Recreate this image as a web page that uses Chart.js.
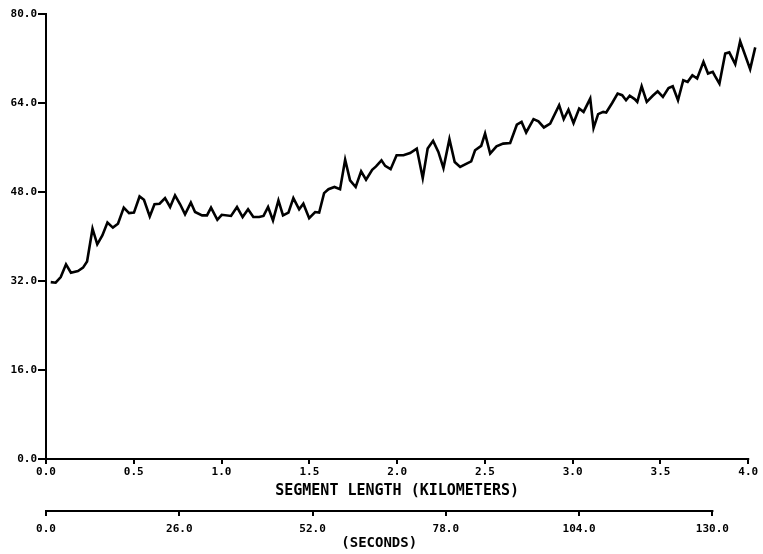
<!DOCTYPE html>
<html>
<head>
<meta charset="utf-8">
<title>Segment length profile</title>
<script src="https://cdn.jsdelivr.net/npm/chart.js@4.4.1/dist/chart.umd.min.js"></script>
<style>
  html, body { margin: 0; padding: 0; background: #fff; }
  canvas { display: block; }
</style>
</head>
<body>
<canvas id="chart" width="763" height="554"></canvas>
<script>
// Distance along the segment (km) for each sample
const distanceKm = [
  0.027, 0.055, 0.084, 0.114, 0.142, 0.182, 0.211, 0.234, 0.265, 0.292,
  0.321, 0.350, 0.381, 0.410, 0.443, 0.473, 0.501, 0.533, 0.558, 0.591,
  0.618, 0.647, 0.678, 0.707, 0.735, 0.764, 0.792, 0.825, 0.849, 0.889,
  0.917, 0.940, 0.976, 1.001, 1.054, 1.088, 1.120, 1.151, 1.181, 1.214,
  1.239, 1.265, 1.293, 1.324, 1.350, 1.381, 1.409, 1.442, 1.466, 1.499,
  1.533, 1.556, 1.584, 1.609, 1.643, 1.675, 1.704, 1.732, 1.764, 1.795,
  1.823, 1.858, 1.880, 1.911, 1.932, 1.963, 1.997, 2.036, 2.074, 2.112,
  2.146, 2.174, 2.205, 2.235, 2.264, 2.298, 2.328, 2.359, 2.396, 2.422,
  2.444, 2.479, 2.501, 2.530, 2.566, 2.604, 2.644, 2.682, 2.709, 2.735,
  2.777, 2.805, 2.836, 2.872, 2.923, 2.949, 2.976, 3.005, 3.037, 3.062,
  3.100, 3.119, 3.145, 3.174, 3.191, 3.225, 3.256, 3.282, 3.304, 3.325,
  3.353, 3.368, 3.393, 3.422, 3.456, 3.484, 3.514, 3.546, 3.570, 3.600,
  3.630, 3.655, 3.682, 3.709, 3.745, 3.771, 3.798, 3.812, 3.836, 3.869,
  3.892, 3.926, 3.954, 4.011, 4.040
];

// Measured value at each sample
const measured = [
  31.8, 31.7, 32.7, 35.0, 33.5, 33.8, 34.4, 35.5, 41.4, 38.6,
  40.2, 42.5, 41.6, 42.3, 45.2, 44.2, 44.3, 47.2, 46.6, 43.6,
  45.8, 45.9, 46.9, 45.3, 47.4, 45.8, 44.0, 46.1, 44.4, 43.8,
  43.8, 45.2, 43.0, 43.9, 43.7, 45.3, 43.5, 44.9, 43.5, 43.5,
  43.7, 45.3, 42.9, 46.5, 43.8, 44.3, 46.9, 44.9, 45.9, 43.3,
  44.4, 44.3, 47.8, 48.5, 48.9, 48.5, 53.8, 50.1, 48.9, 51.7,
  50.2, 52.0, 52.6, 53.7, 52.7, 52.1, 54.6, 54.6, 55.0, 55.8,
  50.5, 55.8, 57.2, 55.2, 52.3, 57.5, 53.4, 52.5, 53.1, 53.5,
  55.5, 56.3, 58.5, 54.9, 56.2, 56.7, 56.8, 60.1, 60.6, 58.7,
  61.1, 60.7, 59.6, 60.3, 63.6, 61.1, 62.8, 60.4, 63.0, 62.4,
  64.8, 59.5, 62.0, 62.4, 62.3, 64.0, 65.7, 65.4, 64.5, 65.3,
  64.7, 64.2, 67.0, 64.2, 65.3, 66.1, 65.1, 66.7, 67.0, 64.5,
  68.1, 67.8, 69.0, 68.4, 71.4, 69.3, 69.6, 68.8, 67.5, 72.9,
  73.1, 71.0, 75.1, 70.1, 74.0
];

// Tick values for the three axes
const kmTicks = [0, 0.5, 1.0, 1.5, 2.0, 2.5, 3.0, 3.5, 4.0];
const valueTicks = [0, 16, 32, 48, 64, 80];
const secondsTicks = [0, 26, 52, 78, 104, 130];

const FONT = "'DejaVu Sans Mono', monospace";
const tickFont = { family: FONT, size: 11, weight: 'bold' };

const points = distanceKm.map((x, i) => ({ x, y: measured[i] }));

// Draws both horizontal axis lines only across their labelled spans,
// with each caption centred under its own span
const axisDecor = {
  id: 'axisDecor',
  afterDraw(chart) {
    const ctx = chart.ctx;
    const km = chart.scales.x;
    const s = chart.scales.seconds;
    const k0 = km.getPixelForValue(kmTicks[0]);
    const k1 = km.getPixelForValue(kmTicks[kmTicks.length - 1]);
    const x0 = s.getPixelForValue(secondsTicks[0]);
    const x1 = s.getPixelForValue(secondsTicks[secondsTicks.length - 1]);
    ctx.save();
    ctx.strokeStyle = '#000';
    ctx.lineWidth = 2;
    ctx.beginPath();
    ctx.moveTo(k0 - 1, km.top);
    ctx.lineTo(k1 + 1, km.top);
    ctx.moveTo(x0 - 1, s.top + 1);
    ctx.lineTo(x1 + 1, s.top + 1);
    ctx.stroke();
    ctx.fillStyle = '#000';
    ctx.textAlign = 'center';
    ctx.textBaseline = 'middle';
    ctx.font = "bold 15px " + FONT;
    ctx.fillText('SEGMENT LENGTH (KILOMETERS)', (k0 + k1) / 2, km.bottom - 19);
    ctx.font = "bold 14px " + FONT;
    ctx.fillText('(SECONDS)', (x0 + x1) / 2, s.bottom - 11);
    ctx.restore();
  }
};

new Chart(document.getElementById('chart'), {
  type: 'line',
  data: {
    datasets: [{
      data: points,
      borderColor: '#000',
      borderWidth: 2.6,
      pointRadius: 0,
      tension: 0,
      fill: false,
      clip: false
    }]
  },
  options: {
    responsive: false,
    animation: false,
    layout: { padding: { top: 14, right: 6, left: 0, bottom: 0 } },
    plugins: { legend: { display: false }, tooltip: { enabled: false } },
    scales: {
      x: {
        type: 'linear',
        position: 'bottom',
        min: 0,
        max: 4.05,
        afterBuildTicks(scale) { scale.ticks = kmTicks.map(v => ({ value: v })); },
        afterFit(scale) { scale.height = 51; },
        ticks: {
          color: '#000',
          font: tickFont,
          padding: 2,
          maxRotation: 0,
          autoSkip: false,
          callback: v => Number(v).toFixed(1)
        },
        grid: { drawOnChartArea: false, color: '#000', lineWidth: 2, tickLength: 5 },
        border: { display: false },
        title: { display: false }
      },
      seconds: {
        type: 'linear',
        position: 'bottom',
        min: 0,
        max: 138.7,
        afterBuildTicks(scale) { scale.ticks = secondsTicks.map(v => ({ value: v })); },
        afterFit(scale) { scale.height = 44; },
        ticks: {
          color: '#000',
          font: tickFont,
          padding: 7,
          maxRotation: 0,
          autoSkip: false,
          callback: v => Number(v).toFixed(1)
        },
        grid: { drawOnChartArea: false, color: '#000', lineWidth: 2, tickLength: 6 },
        border: { display: false },
        title: { display: false }
      },
      y: {
        type: 'linear',
        position: 'left',
        min: 0,
        max: 80,
        afterBuildTicks(scale) { scale.ticks = valueTicks.map(v => ({ value: v })); },
        afterFit(scale) { scale.width = 46; },
        ticks: {
          color: '#000',
          font: tickFont,
          padding: 1,
          autoSkip: false,
          callback: v => Number(v).toFixed(1)
        },
        grid: { drawOnChartArea: false, color: '#000', lineWidth: 2, tickLength: 8 },
        border: { display: true, color: '#000', width: 2 }
      }
    }
  },
  plugins: [axisDecor]
});
</script>
</body>
</html>
